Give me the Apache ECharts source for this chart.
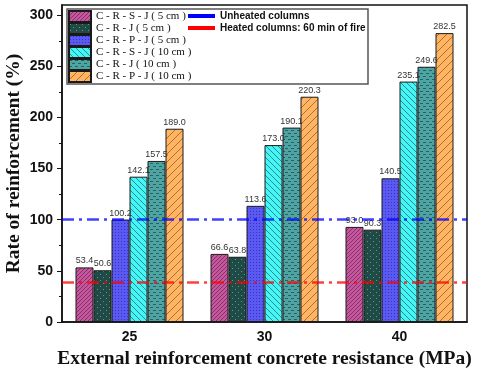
<!DOCTYPE html>
<html>
<head>
<meta charset="utf-8">
<script src="https://cdn.jsdelivr.net/npm/echarts@6/dist/echarts.min.js"></script>
<style>
  html, body { margin: 0; padding: 0; background: #fff; }
  #main { width: 480px; height: 371px; }
</style>
</head>
<body>
<div id="main"></div>
<script>
// categories (MPa)
var categories = ['25', '30', '40'];
var seriesNames = [
  'C - R - S - J ( 5 cm )',
  'C - R - J ( 5 cm )',
  'C - R - P - J ( 5 cm )',
  'C - R - S - J ( 10 cm )',
  'C - R - J ( 10 cm )',
  'C - R - P - J ( 10 cm )'
];
var crsj5 = [53.4, 66.6, 93.0];
var crj5 = [50.6, 63.8, 90.3];
var crpj5 = [100.2, 113.6, 140.5];
var crsj10 = [142.1, 173.0, 235.1];
var crj10 = [157.5, 190.1, 249.6];
var crpj10 = [189.0, 220.3, 282.5];
var barValues = [crsj5, crj5, crpj5, crsj10, crj10, crpj10];

var lineNames = ['Unheated columns', 'Heated columns: 60 min of fire'];
var lineValues = [100, 38.5];

var yTicks = [0, 50, 100, 150, 200, 250, 300];
var yMinorTicks = [25, 75, 125, 175, 225, 275];

// hatch / dot fills
function tile(size, bg, fg, test) {
  var c = document.createElement('canvas');
  c.width = size; c.height = size;
  var ctx = c.getContext('2d');
  ctx.fillStyle = bg;
  ctx.fillRect(0, 0, size, size);
  ctx.fillStyle = fg;
  for (var x = 0; x < size; x++) {
    for (var y = 0; y < size; y++) {
      if (test(x, y)) ctx.fillRect(x, y, 1, 1);
    }
  }
  return { image: c, repeat: 'repeat' };
}
var fills = [
  tile(4, '#c4579e', '#86306a', function (x, y) { return (x + y) % 4 == 0; }),
  tile(6, '#1f4a45', '#5c978c', function (x, y) { return (x == 1 && y == 1) || (x == 4 && y == 4); }),
  tile(3, '#5a5af2', '#3434c4', function (x, y) { return x == 1 && y == 1; }),
  tile(6, '#46f5f5', '#2a8c8c', function (x, y) { return (x - y + 6) % 6 == 0; }),
  tile(6, '#4ea3a3', '#27605f', function (x, y) { return (y == 1 && x < 3) || (y == 4 && x >= 3); }),
  tile(8, '#ffb563', '#b36f2b', function (x, y) { return (x + y) % 8 == 0; })
];
var lineColors = ['#0000ff', '#ff0000'];

var chart = echarts.init(document.getElementById('main'));

var series = [];
barValues.forEach(function (vals, i) {
  series.push({
    name: seriesNames[i],
    type: 'bar',
    data: vals,
    barGap: '0%',
    barCategoryGap: '20%',
    itemStyle: { color: fills[i], borderColor: '#1a1a1a', borderWidth: 1 },
    label: {
      show: true,
      position: 'top',
      distance: 2,
      formatter: function (p) { return p.value.toFixed(1); },
      fontFamily: 'Liberation Sans',
      fontSize: 9,
      color: '#333'
    }
  });
});
lineValues.forEach(function (v, i) {
  series.push({
    name: lineNames[i],
    type: 'line',
    data: ['-', '-', '-'],
    z: 5,
    itemStyle: { color: lineColors[i] },
    lineStyle: { color: lineColors[i] },
    markLine: {
      silent: true,
      symbol: 'none',
      label: { show: false },
      lineStyle: { color: lineColors[i], width: 2.5, type: [12, 5, 3, 5], opacity: 0.75 },
      data: [{ yAxis: v }]
    }
  });
});

var option = {
  animation: false,
  backgroundColor: '#fff',
  grid: {
    left: 62, right: 13, top: 5, bottom: 49,
    outerBoundsMode: 'none',
    show: true, borderColor: '#111', borderWidth: 1.5
  },
  legend: [{
    data: seriesNames,
    orient: 'vertical',
    left: 68, top: 10,
    padding: 0,
    icon: 'rect',
    itemWidth: 22, itemHeight: 11, itemGap: -1,
    textStyle: { fontFamily: 'Liberation Serif', fontSize: 11, color: '#111' }
  }, {
    data: lineNames,
    orient: 'vertical',
    left: 188, top: 10,
    padding: 0,
    icon: 'rect',
    itemWidth: 27, itemHeight: 4, itemGap: 0,
    textStyle: { fontFamily: 'Liberation Sans', fontWeight: 'bold', fontSize: 10, color: '#111', lineHeight: 12 }
  }],
  graphic: [{
    type: 'rect',
    shape: { x: 67, y: 9, width: 301, height: 75 },
    style: { fill: 'none', stroke: '#555', lineWidth: 1.5 },
    z: 0
  }],
  xAxis: {
    type: 'category',
    data: categories,
    name: 'External reinforcement concrete resistance (MPa)',
    nameLocation: 'middle',
    nameGap: 25,
    nameTextStyle: { fontFamily: 'Liberation Serif', fontWeight: 'bold', fontSize: 19.5, color: '#111' },
    axisLine: { lineStyle: { color: '#111', width: 1.5 } },
    axisTick: { length: 4, lineStyle: { color: '#111' } },
    axisLabel: { margin: 8, fontFamily: 'Liberation Sans', fontWeight: 'bold', fontSize: 14, color: '#111' }
  },
  yAxis: [{
    type: 'value',
    min: 0, max: 310, interval: 50,
    name: 'Rate of reinforcement (%)',
    nameLocation: 'middle',
    nameGap: 38,
    nameMoveOverlap: false,
    nameTextStyle: { fontFamily: 'Liberation Serif', fontWeight: 'bold', fontSize: 19.5, color: '#111' },
    axisLine: { show: true, lineStyle: { color: '#111', width: 1.5 } },
    axisTick: { show: true, length: 5, customValues: yTicks, lineStyle: { color: '#111' } },
    axisLabel: { margin: 9, customValues: yTicks, fontFamily: 'Liberation Sans', fontWeight: 'bold', fontSize: 14, color: '#111' },
    splitLine: { show: false }
  }, {
    type: 'value',
    min: 0, max: 310, interval: 50,
    position: 'left',
    axisLine: { show: false },
    axisTick: { show: true, length: 3, customValues: yMinorTicks, lineStyle: { color: '#111' } },
    axisLabel: { show: false },
    splitLine: { show: false }
  }],
  series: series
};
chart.setOption(option);
</script>
</body>
</html>
